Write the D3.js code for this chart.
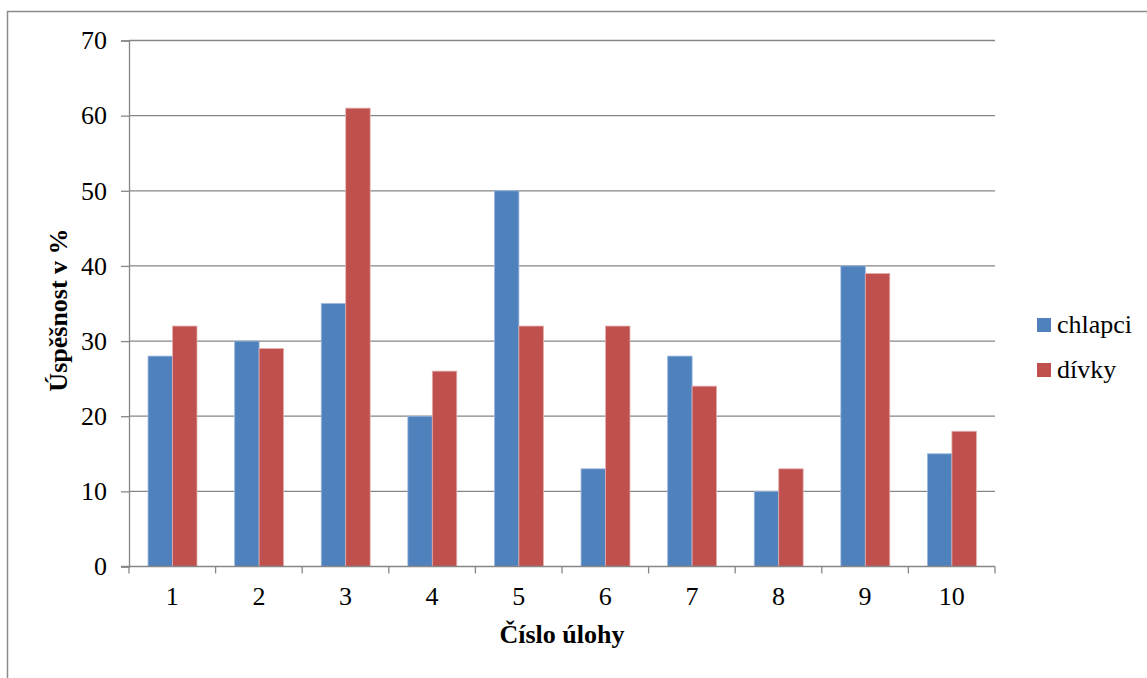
<!DOCTYPE html>
<html>
<head>
<meta charset="utf-8">
<script src="https://cdn.jsdelivr.net/npm/d3@7"></script>
<style>
  body { margin: 0; background: #fff; }
  svg { display: block; }
  svg text { font-family: "Liberation Serif", "Times New Roman", serif; fill: #000; }
</style>
</head>
<body>
<div id="chart"></div>
<script>
const categories = ["1", "2", "3", "4", "5", "6", "7", "8", "9", "10"];
const seriesNames = ["chlapci", "dívky"];
const chlapci = [28, 30, 35, 20, 50, 13, 28, 10, 40, 15];
const divky = [32, 29, 61, 26, 32, 32, 24, 13, 39, 18];
const yTicks = [0, 10, 20, 30, 40, 50, 60, 70];

const colors = { "chlapci": "#4F81BD", "dívky": "#C0504D" };
const edges = { "chlapci": "#9DB9DE", "dívky": "#E3AFAE" };

const width = 1147, height = 678;
const margin = { top: 40.5, right: 152, bottom: 111.5, left: 129 };

const svg = d3.select("#chart")
  .append("svg")
  .attr("width", width)
  .attr("height", height);

// outer chart border (runs off right and bottom edges)
svg.append("rect")
  .attr("x", 7.5)
  .attr("y", 11.5)
  .attr("width", width + 10)
  .attr("height", height + 10)
  .attr("fill", "none")
  .attr("stroke", "#8c8c8c")
  .attr("stroke-width", 1.5);

const x = d3.scaleBand()
  .domain(categories)
  .range([margin.left, width - margin.right]);

const xSub = d3.scaleBand()
  .domain(seriesNames)
  .range([x.bandwidth() * 0.22, x.bandwidth() * 0.785]);

const y = d3.scaleLinear()
  .domain([0, 70])
  .range([height - margin.bottom, margin.top]);

// gridlines
svg.append("g")
  .selectAll("line")
  .data(yTicks.filter(d => d > 0))
  .join("line")
  .attr("x1", margin.left)
  .attr("x2", width - margin.right)
  .attr("y1", d => y(d))
  .attr("y2", d => y(d))
  .attr("stroke", "#868686")
  .attr("stroke-width", 1.3);

// bars
const rows = categories.map((c, i) => ({ cat: c, values: [
  { name: "chlapci", value: chlapci[i] },
  { name: "dívky", value: divky[i] }
] }));

svg.append("g")
  .selectAll("g")
  .data(rows)
  .join("g")
  .attr("transform", d => `translate(${x(d.cat)},0)`)
  .selectAll("rect")
  .data(d => d.values)
  .join("rect")
  .attr("x", d => xSub(d.name))
  .attr("y", d => y(d.value))
  .attr("width", xSub.bandwidth())
  .attr("height", d => y(0) - y(d.value))
  .attr("fill", d => colors[d.name])
  .attr("stroke", d => edges[d.name])
  .attr("stroke-width", 0.8);

// y axis
const yAxis = svg.append("g")
  .attr("transform", `translate(${margin.left},0)`)
  .call(d3.axisLeft(y).tickValues(yTicks).tickSize(8).tickPadding(14));
yAxis.select(".domain").attr("stroke", "#868686").attr("stroke-width", 1.3);
yAxis.selectAll(".tick line").attr("stroke", "#868686").attr("stroke-width", 1.3);
yAxis.selectAll("text").style("font-size", "26px");

// x axis
const xAxis = svg.append("g")
  .attr("transform", `translate(0,${y(0)})`)
  .call(d3.axisBottom(x).tickSize(0).tickPadding(20));
xAxis.select(".domain").remove();
xAxis.selectAll("text").style("font-size", "26px");

svg.append("line")
  .attr("x1", margin.left - 8)
  .attr("x2", width - margin.right)
  .attr("y1", y(0))
  .attr("y2", y(0))
  .attr("stroke", "#868686")
  .attr("stroke-width", 1.3);

// category separators
const bounds = categories.map(c => x(c)).concat([x.range()[1]]);
svg.append("g")
  .selectAll("line")
  .data(bounds)
  .join("line")
  .attr("x1", d => d)
  .attr("x2", d => d)
  .attr("y1", y(0))
  .attr("y2", y(0) + 7)
  .attr("stroke", "#868686")
  .attr("stroke-width", 1.3);

// axis titles
svg.append("text")
  .attr("x", (margin.left + width - margin.right) / 2)
  .attr("y", 643)
  .attr("text-anchor", "middle")
  .style("font-size", "26px")
  .style("font-weight", "bold")
  .text("Číslo úlohy");

svg.append("text")
  .attr("transform", "rotate(-90)")
  .attr("x", -310)
  .attr("y", 67)
  .attr("text-anchor", "middle")
  .style("font-size", "26px")
  .style("font-weight", "bold")
  .text("Úspěšnost v %");

// legend
const legend = svg.append("g")
  .selectAll("g")
  .data(seriesNames)
  .join("g")
  .attr("transform", (d, i) => `translate(1037,${318 + i * 45})`);

legend.append("rect")
  .attr("width", 14)
  .attr("height", 14)
  .attr("fill", d => colors[d]);

legend.append("text")
  .attr("x", 20)
  .attr("y", 15)
  .style("font-size", "26px")
  .text(d => d);
</script>
</body>
</html>
